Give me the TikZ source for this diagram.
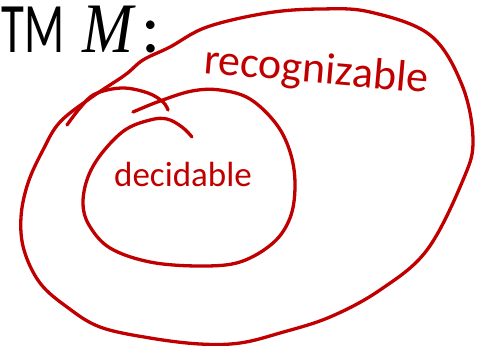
\documentclass[tikz,border=0pt]{standalone}
\usepackage{fontspec}
\setmainfont{Carlito}
\newfontfamily\varfont{Liberation Serif}
\usepackage{graphicx}
\usepackage{xcolor}
\usepackage{tikz}

\definecolor{penred}{RGB}{192,0,0}

\begin{document}
\begin{tikzpicture}[
      x=1pt, y=-1pt,
      title_lbl/.style={font=\fontsize{71}{71}\selectfont, inner sep=0pt},
      hand_lbl/.style={text=penred, inner sep=0pt},
      pen_style/.style={draw=penred, line width=3.3pt, line cap=round, line join=round}
  ]

  % 1. Area del disegno
  \useasboundingbox (0,0) rectangle (483,346);

  % 2. Titolo
  \node[title_lbl, anchor=base west] (tm_title) at (1,52)
    {\scalebox{0.66}[1]{TM}\hspace{18pt}\scalebox{0.86}[1]{\varfont\itshape M}\hspace{9pt}:};

  % 3. Insieme esterno (riconoscibili)
  \draw[pen_style] plot[smooth cycle, tension=0.6] coordinates {
    (60,122) (43,150) (28,183) (21,217) (24,250) (40,283) (67,307)
    (100,327) (150,338) (200,344) (240,343) (280,333) (330,317)
    (380,290) (427,250) (463,180) (473,140) (462,85) (430,35)
    (370,12) (320,9) (267,13) (207,27) (170,47) (143,60) (125,75) (92,97)};

  % 4. Tratto a uncino
  \draw[pen_style] plot[smooth, tension=0.6] coordinates {
    (67,125) (80,108) (95,94) (122,88) (148,93) (163,102) (168,110)};

  % 5. Insieme interno (decidibili), tracciato a spirale
  \draw[pen_style] plot[smooth, tension=0.6] coordinates {
    (133,112) (160,101) (192,91) (220,90) (250,99) (277,125) (291,155)
    (295,187) (290,218) (273,243) (240,262) (200,266) (150,262) (110,248)
    (89,225) (83,203) (88,177) (102,153) (125,130) (150,120) (167,119)
    (182,127) (192,137)};

  % 6. Scritte a mano
  \node[hand_lbl, font=\fontsize{44}{44}\selectfont, rotate=-5, anchor=base]
    (recog_lbl) at (315,83) {recognizable};
  \node[hand_lbl, font=\fontsize{35}{35}\selectfont, anchor=base]
    (decid_lbl) at (183,186) {decidable};

\end{tikzpicture}
\end{document}
